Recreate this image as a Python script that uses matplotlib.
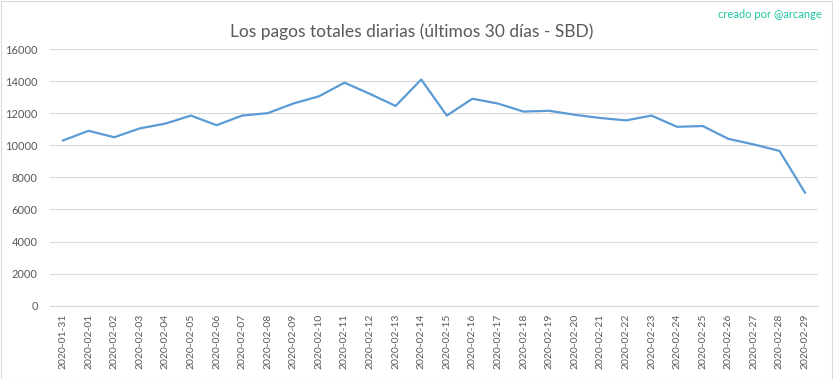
import matplotlib
matplotlib.use("Agg")
import matplotlib.pyplot as plt

dates = ["2020-01-31"] + ["2020-02-%02d" % d for d in range(1, 30)]
values = [10300, 10900, 10500, 11050, 11350, 11850, 11250, 11850, 12000, 12600,
          13050, 13900, 13200, 12450, 14100, 11850, 12900, 12600, 12100, 12150,
          11900, 11700, 11550, 11850, 11150, 11200, 10400, 10050, 9650, 7050]
yticks = [0, 2000, 4000, 6000, 8000, 10000, 12000, 14000, 16000]

plt.rcParams['font.family'] = ['Lato', 'DejaVu Sans']

fig = plt.figure(figsize=(8.33, 3.79), dpi=100)
ax = fig.add_axes([50.2/833, 1-305.7/379, (817.8-50.2)/833, (305.7-49)/379])

x = list(range(len(dates)))
ax.plot(x, values, color="#5B9BD5", linewidth=1.6, solid_joinstyle="round")
ax.set_xlim(-0.5, len(dates)-0.5)
ax.set_ylim(0, 16000)
ax.set_yticks(yticks)
ax.set_yticklabels([str(v) for v in yticks], fontsize=8, color="#595959")
ax.set_xticks(x)
ax.set_xticklabels(dates, rotation=90, fontsize=7.5, color="#595959")
ax.tick_params(length=0, pad=6)
ax.tick_params(axis='y', pad=9)
ax.grid(axis='y', color="#D9D9D9", linewidth=0.8)
ax.set_axisbelow(True)
for s in ["top", "right", "left"]:
    ax.spines[s].set_visible(False)
ax.spines["bottom"].set_color("#D9D9D9")
ax.spines["bottom"].set_linewidth(0.8)

fig.text(412/833, 1-32/379, "Los pagos totales diarias (últimos 30 días - SBD)",
         ha="center", va="center", fontsize=12.5, color="#595959")
fig.text(822/833, 1-14/379, "creado por @arcange", ha="right", va="center",
         fontsize=8, color="#1AC8A0")

fig.patches.append(plt.Rectangle((0.5/833, 0.5/379), 1-1.5/833, 1-1.5/379,
                                 transform=fig.transFigure, fill=False,
                                 edgecolor="#D9D9D9", linewidth=0.8))
fig.savefig("out.png", dpi=100)
